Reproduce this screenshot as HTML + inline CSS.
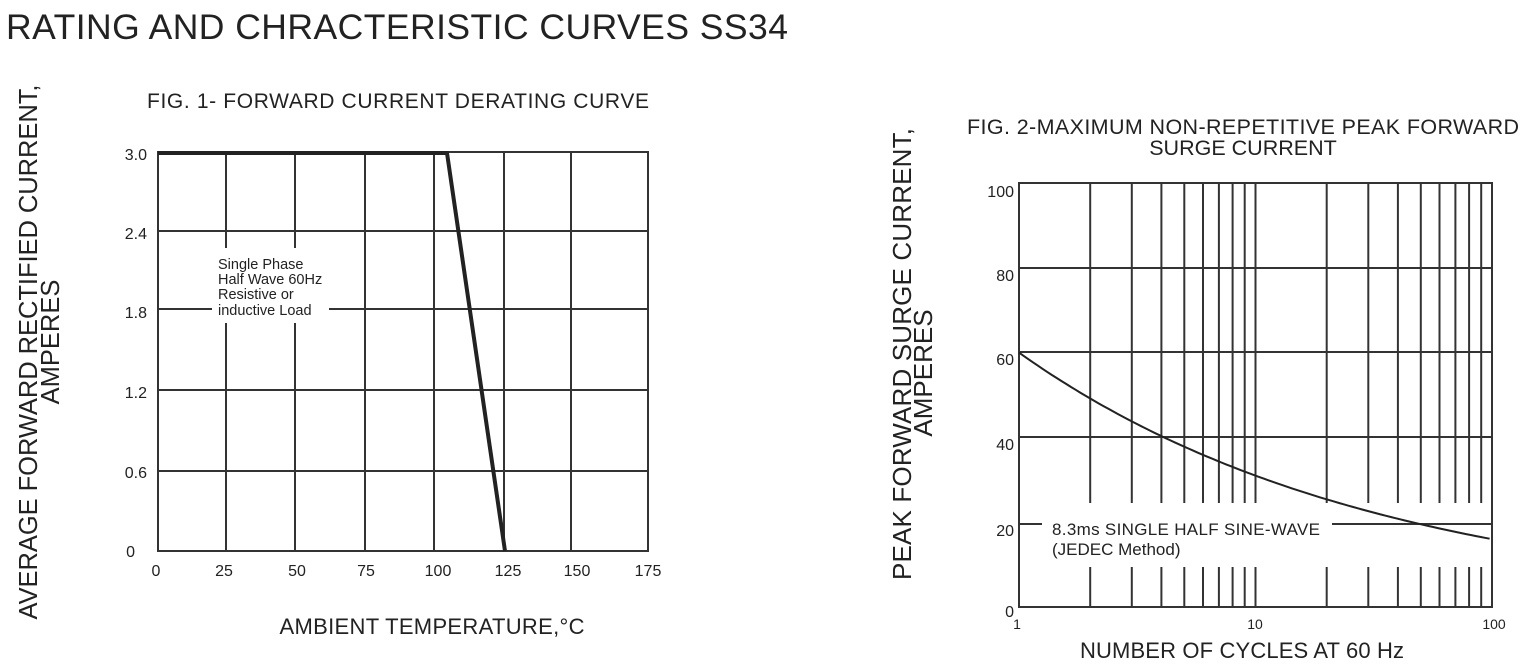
<!DOCTYPE html>
<html><head><meta charset="utf-8"><style>
html,body{margin:0;padding:0;background:#fff}
svg{display:block}
text{font-family:"Liberation Sans",Arial,sans-serif;fill:#222}
</style></head><body>
<svg width="1522" height="664" viewBox="0 0 1522 664" xmlns="http://www.w3.org/2000/svg">
<text x="6" y="39" font-size="35.5" textLength="782">RATING AND CHRACTERISTIC CURVES SS34</text>

<!-- FIG 1 -->
<text x="398" y="108" font-size="21" text-anchor="middle" textLength="502">FIG. 1- FORWARD CURRENT DERATING CURVE</text>
<g stroke="#333" stroke-width="2" fill="none">
<path d="M226 152V248M226 323V551M295 152V248M295 323V551M365 152V551M434 152V551M504 152V551M571 152V551"/>
<path d="M158 231H648M158 309H212M329 309H648M158 390H648M158 471H648"/>
<rect x="158" y="152" width="490" height="399"/>
</g>
<polyline points="158,153 447,153 505,551" stroke="#222" stroke-width="4" fill="none"/>
<text x="218" y="269" font-size="14.5">Single Phase</text>
<text x="218" y="284" font-size="14.5">Half Wave 60Hz</text>
<text x="218" y="299" font-size="14.5">Resistive or</text>
<text x="218" y="315" font-size="14.5">inductive Load</text>
<g font-size="16" text-anchor="end">
<text x="147" y="160">3.0</text><text x="147" y="239">2.4</text><text x="147" y="318">1.8</text>
<text x="147" y="398">1.2</text><text x="147" y="478">0.6</text><text x="135" y="557">0</text>
</g>
<g font-size="16" text-anchor="middle">
<text x="156" y="576">0</text><text x="224" y="576">25</text><text x="297" y="576">50</text>
<text x="366" y="576">75</text><text x="438" y="576">100</text><text x="508" y="576">125</text>
<text x="577" y="576">150</text><text x="648" y="576">175</text>
</g>
<text x="432" y="634" font-size="22" text-anchor="middle" textLength="305">AMBIENT TEMPERATURE,°C</text>
<text transform="translate(37,352) rotate(-90)" font-size="25.5" text-anchor="middle" textLength="535">AVERAGE FORWARD RECTIFIED CURRENT,</text>
<text transform="translate(59,342) rotate(-90)" font-size="25.5" text-anchor="middle">AMPERES</text>

<!-- FIG 2 -->
<text x="1243" y="134" font-size="21.5" text-anchor="middle" textLength="552">FIG. 2-MAXIMUM NON-REPETITIVE PEAK FORWARD</text>
<text x="1243" y="155" font-size="21.5" text-anchor="middle">SURGE CURRENT</text>
<g stroke="#333" stroke-width="2" fill="none">
<path d="M1019 268H1492M1019 352H1492M1019 437H1492M1019 524H1042M1332 524H1492"/>
<path id="vl" d=""/>
</g>
<rect x="1019" y="183" width="473" height="424" stroke="#333" stroke-width="2" fill="none"/>
<path id="curve" stroke="#222" stroke-width="2" fill="none"/>
<text x="1052" y="535" font-size="17" textLength="268">8.3ms SINGLE HALF SINE-WAVE</text>
<text x="1052" y="555" font-size="17">(JEDEC Method)</text>
<g font-size="16" text-anchor="end">
<text x="1014" y="197">100</text><text x="1014" y="281">80</text><text x="1014" y="365">60</text>
<text x="1014" y="450">40</text><text x="1014" y="536">20</text><text x="1014" y="617">0</text>
</g>
<g font-size="14" text-anchor="middle">
<text x="1017" y="629">1</text><text x="1255" y="629">10</text><text x="1494" y="629">100</text>
</g>
<text x="1242" y="658" font-size="22" text-anchor="middle" textLength="324">NUMBER OF CYCLES AT 60 Hz</text>
<text transform="translate(911,354) rotate(-90)" font-size="26" text-anchor="middle" textLength="452">PEAK  FORWARD SURGE CURRENT,</text>
<text transform="translate(932,373) rotate(-90)" font-size="26" text-anchor="middle">AMPERES</text>
</svg>
<script>
(function(){
var L=1019,W=473/2,d="";
[10,100].forEach(function(dec,i){for(var k=2;k<=9;k++){var x=(L+W*i+Math.log10(k)*W).toFixed(1);
d+="M"+x+" 183V503M"+x+" 567V607";}});
d+="M1255.5 183V503M1255.5 567V607";
document.getElementById("vl").setAttribute("d",d);
var c="";for(var i=0;i<=100;i++){var lg=i/100*1.99;var n=Math.pow(10,lg);var v=60*Math.pow(n,-0.287);
var x=L+lg*W,y=607-v*4.24;c+=(i?"L":"M")+x.toFixed(1)+" "+y.toFixed(1);}
document.getElementById("curve").setAttribute("d",c);
})();
</script>
</body></html>
